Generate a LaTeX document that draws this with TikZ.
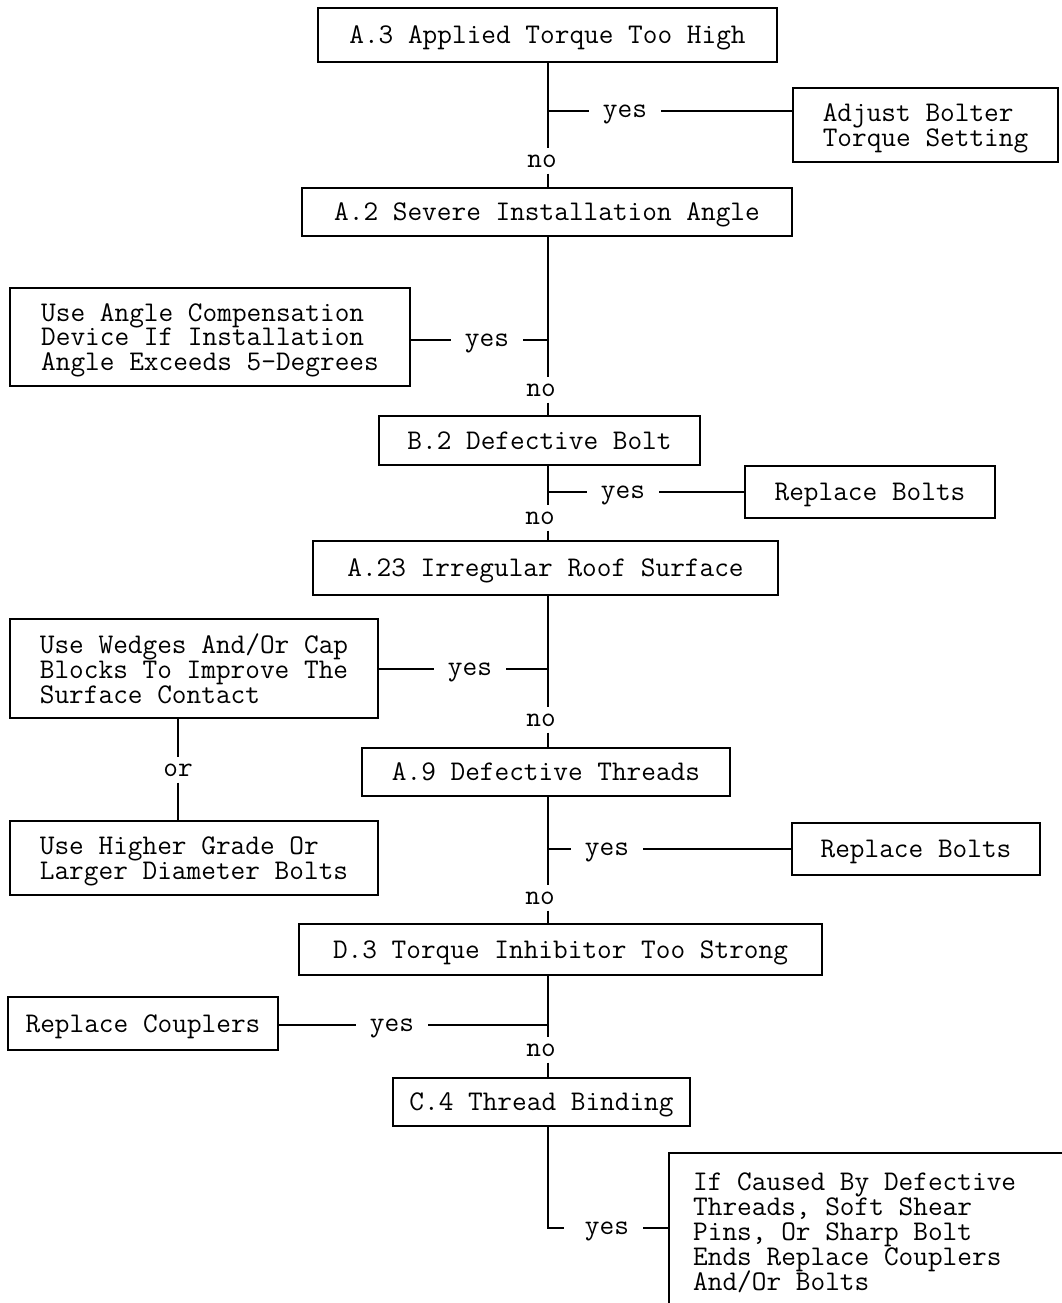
\documentclass[tikz,border=0pt]{standalone}
\usepackage{fontspec}
\setlength{\lineskiplimit}{-30pt}
\newcommand\flowfont{\ttfamily\fontsize{28.5}{24.8}\selectfont}
\begin{document}
\begin{tikzpicture}[x=1pt,y=-1pt,
  every node/.style={font=\flowfont},
  flowbox/.style={draw, line width=1.6pt, inner sep=0pt, align=left, text depth=0pt},
  yeslbl/.style={inner xsep=14pt, inner ysep=4pt, text depth=0pt},
  nolbl/.style={inner sep=6pt},
  link/.style={line width=1.6pt}]
\clip (0,0) rectangle (1062,1303);
\fill[white] (0,0) rectangle (1062,1303);
\coordinate (m) at (548,0);

% boxes
\node[flowbox, minimum width=459, minimum height=54] (a3) at (547.5,35) {A.3 Applied Torque Too High};
\node[flowbox, minimum width=265, minimum height=74] (adj) at (925.5,125) {Adjust Bolter\\Torque Setting};
\node[flowbox, minimum width=490, minimum height=48] (a2) at (547,212) {A.2 Severe Installation Angle};
\node[flowbox, minimum width=400, minimum height=98] (ang) at (210,337) {Use Angle Compensation\\Device If Installation\\Angle Exceeds 5-Degrees};
\node[flowbox, minimum width=321, minimum height=49] (b2) at (539.5,440.5) {B.2 Defective Bolt};
\node[flowbox, minimum width=250, minimum height=52] (rb1) at (870,492) {Replace Bolts};
\node[flowbox, minimum width=465, minimum height=54] (a23) at (545.5,568) {A.23 Irregular Roof Surface};
\node[flowbox, minimum width=368, minimum height=99] (wed) at (194,668.5) {Use Wedges And/Or Cap\\Blocks To Improve The\\Surface Contact};
\node[flowbox, minimum width=368, minimum height=74] (hig) at (194,858) {Use Higher Grade Or\\Larger Diameter Bolts};
\node[flowbox, minimum width=368, minimum height=48] (a9) at (546,772) {A.9 Defective Threads};
\node[flowbox, minimum width=248, minimum height=52] (rb2) at (916,849) {Replace Bolts};
\node[flowbox, minimum width=523, minimum height=51] (d3) at (560.5,949.5) {D.3 Torque Inhibitor Too Strong};
\node[flowbox, minimum width=270, minimum height=53] (rc) at (143,1023.5) {Replace Couplers};
\node[flowbox, minimum width=297, minimum height=48] (c4) at (541.5,1102) {C.4 Thread Binding};
\node[flowbox, minimum width=500, minimum height=250, anchor=north west] (cause) at (668,1152) {};
\node[inner sep=0pt, align=left, anchor=north west] (causetxt) at (693,1173) {If Caused By Defective\\Threads, Soft Shear\\Pins, Or Sharp Bolt\\Ends Replace Couplers\\And/Or Bolts};

% labels
\node[yeslbl] (yes1) at (625,111) {yes};
\node[nolbl] (no1) at (542,161) {no};
\node[yeslbl] (yes2) at (487,340) {yes};
\node[nolbl] (no2) at (541,390) {no};
\node[yeslbl] (yes3) at (623,492) {yes};
\node[nolbl] (no3) at (540,518) {no};
\node[yeslbl] (yes4) at (470,669) {yes};
\node[nolbl] (no4) at (541,720) {no};
\node[nolbl] (or1) at (178,770) {or};
\node[yeslbl] (yes5) at (607,849) {yes};
\node[nolbl] (no5) at (540,898) {no};
\node[yeslbl] (yes6) at (392,1025) {yes};
\node[nolbl] (no6) at (541,1050) {no};
\node[yeslbl] (yes7) at (607,1228) {yes};

% main trunk
\draw[link] (a3.south -| m) -- (no1.north -| m);
\draw[link] (no1.south -| m) -- (a2.north -| m);
\draw[link] (a2.south -| m) -- (no2.north -| m);
\draw[link] (no2.south -| m) -- (b2.north -| m);
\draw[link] (b2.south -| m) -- (no3.north -| m);
\draw[link] (no3.south -| m) -- (a23.north -| m);
\draw[link] (a23.south -| m) -- (no4.north -| m);
\draw[link] (no4.south -| m) -- (a9.north -| m);
\draw[link] (a9.south -| m) -- (no5.north -| m);
\draw[link] (no5.south -| m) -- (d3.north -| m);
\draw[link] (d3.south -| m) -- (no6.north -| m);
\draw[link] (no6.south -| m) -- (c4.north -| m);
\draw[link] (c4.south -| m) |- ([xshift=-7pt]yes7.west);

% yes branches
\draw[link] (yes1.west -| m) -- (yes1.west);
\draw[link] (yes1.east) -- (yes1.east -| adj.west);
\draw[link] (ang.east |- yes2.west) -- (yes2.west);
\draw[link] (yes2.east) -- (yes2.east -| m);
\draw[link] (yes3.west -| m) -- (yes3.west);
\draw[link] (yes3.east) -- (yes3.east -| rb1.west);
\draw[link] (wed.east |- yes4.west) -- (yes4.west);
\draw[link] (yes4.east) -- (yes4.east -| m);
\draw[link] (yes5.west -| m) -- (yes5.west);
\draw[link] (yes5.east) -- (yes5.east -| rb2.west);
\draw[link] (rc.east |- yes6.west) -- (yes6.west);
\draw[link] (yes6.east) -- (yes6.east -| m);
\draw[link] (yes7.east) -- (yes7.east -| cause.west);

% or link
\draw[link] (wed.south -| or1) -- (or1.north);
\draw[link] (or1.south) -- (hig.north -| or1);
\end{tikzpicture}
\end{document}
